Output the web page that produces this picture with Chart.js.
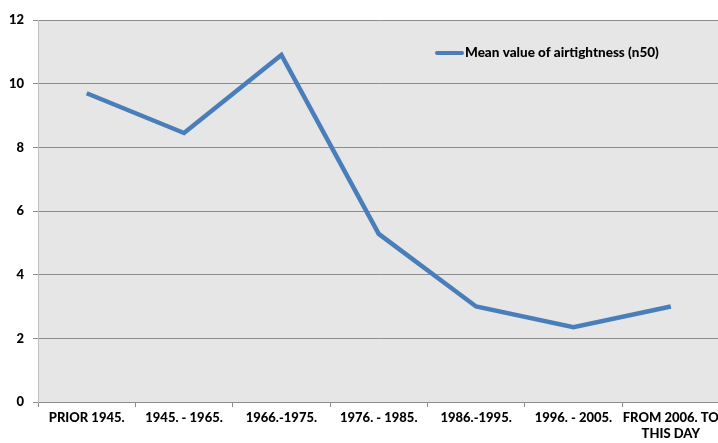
<!DOCTYPE html>
<html>
<head>
<meta charset="utf-8">
<script src="https://cdn.jsdelivr.net/npm/chart.js@4/dist/chart.umd.min.js"></script>
<style>
  html, body { margin: 0; padding: 0; background: #fff; overflow: hidden; }
  #wrap { width: 718px; height: 443px; overflow: hidden; position: relative; }
  canvas { display: block; }
</style>
</head>
<body>
<div id="wrap"><canvas id="chart" width="722" height="443"></canvas></div>
<script>
const periods = [
  'PRIOR 1945.',
  '1945. - 1965.',
  '1966.-1975.',
  '1976. - 1985.',
  '1986.-1995.',
  '1996. - 2005.',
  ['FROM 2006. TO', 'THIS DAY'],
];
const airtightness = [9.7, 8.45, 10.9, 5.28, 3.0, 2.35, 3.0];
const seriesLabel  = 'Mean value of airtightness (n50)';
const yTicks       = [0, 2, 4, 6, 8, 10, 12];

const LINE_COLOR = '#4A7EBB';
const FONT = 'Lato, "Open Sans", sans-serif';

const plotBg = {
  id: 'plotBg',
  beforeDraw(chart) {
    const { ctx, chartArea: a } = chart;
    ctx.save();
    ctx.fillStyle = '#E6E6E6';
    ctx.fillRect(a.left, a.top, a.right - a.left, a.bottom - a.top);
    ctx.restore();
  },
};

// legend sits inside the plot, top right
const insideLegend = {
  id: 'insideLegend',
  afterDraw(chart) {
    const { ctx } = chart;
    const x = 437, y = 53;
    ctx.save();
    ctx.strokeStyle = LINE_COLOR;
    ctx.lineWidth = 4;
    ctx.lineCap = 'round';
    ctx.beginPath();
    ctx.moveTo(x, y);
    ctx.lineTo(x + 25, y);
    ctx.stroke();
    ctx.fillStyle = '#000';
    ctx.font = `900 13.5px ${FONT}`;
    ctx.textBaseline = 'middle';
    ctx.fillText(chart.data.datasets[0].label, x + 28, y);
    ctx.restore();
  },
};

new Chart(document.getElementById('chart'), {
  type: 'line',
  data: {
    labels: periods,
    datasets: [{
      label:       seriesLabel,
      data:        airtightness,
      borderColor: LINE_COLOR,
      borderWidth: 4.5,
      pointRadius: 0,
      tension:     0,
      fill:        false,
    }],
  },
  options: {
    responsive: false,
    animation: false,
    layout: { padding: { top: 20, right: 2, left: 0, bottom: 0 } },
    plugins: {
      legend:  { display: false },
      tooltip: { enabled: false },
    },
    scales: {
      x: {
        offset: true,
        grid: {
          offset: true,
          drawOnChartArea: false,
          drawTicks: true,
          tickLength: 5,
          color: '#8C8C8C',
        },
        border: { color: '#8C8C8C' },
        ticks: {
          color: '#000',
          font: { family: FONT, size: 13, weight: 900 },
          maxRotation: 0,
          autoSkip: false,
          padding: 3,
          lineHeight: 1.0,
        },
        afterFit: s => { s.height = 41; },
      },
      y: {
        min: 0,
        max: 12,
        afterBuildTicks: s => { s.ticks = yTicks.map(v => ({ value: v })); },
        grid: {
          color: '#8C8C8C',
          tickLength: 5,
        },
        border: { color: '#BFBFBF' },
        ticks: {
          color: '#000',
          font: { family: FONT, size: 13, weight: 900 },
          padding: 9,
        },
        afterFit: s => { s.width = 38; },
      },
    },
  },
  plugins: [plotBg, insideLegend],
});
</script>
</body>
</html>
